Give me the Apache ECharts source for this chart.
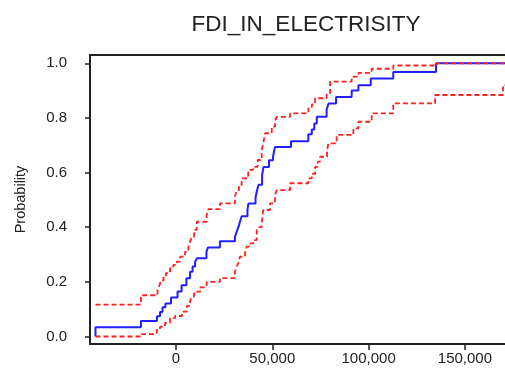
<!DOCTYPE html>
<html>
<head>
<meta charset="utf-8">
<script src="https://cdn.jsdelivr.net/npm/echarts@6/dist/echarts.min.js"></script>
<style>
  html, body { margin: 0; padding: 0; background: #fff; }
  #chart { width: 505px; height: 372px; }
</style>
</head>
<body>
<div id="chart"></div>
<script>
// Empirical CDF of FDI in electricity with its confidence band
const chartTitle = 'FDI_IN_ELECTRISITY';
const yAxisName = 'Probability';

const xTicks = [0, 50000, 100000, 150000];
const yTicks = [0, 0.2, 0.4, 0.6, 0.8, 1.0];

// Empirical CDF (jump locations and cumulative probability)
const ecdfX = [-41800, -41800, -18200, -9900, -8300, -7000, -5500, -2600, 800, 2900,
  5400, 7300, 8600, 9900, 10900, 15800, 16600, 22800, 30600, 31500,
  32400, 33200, 34100, 37100, 37600, 41300, 42100, 42800, 44700, 45400,
  48300, 50400, 51400, 59700, 68700, 70500, 71800, 73100, 78200, 79200,
  83100, 91200, 94700, 101100, 112800, 135000, 180000];
const ecdfY = [0, 0.034, 0.057, 0.074, 0.09, 0.107, 0.121, 0.143, 0.165, 0.188,
  0.213, 0.237, 0.256, 0.274, 0.286, 0.31, 0.326, 0.349, 0.365, 0.383,
  0.40, 0.42, 0.44, 0.463, 0.487, 0.51, 0.535, 0.555, 0.59, 0.62,
  0.645, 0.66, 0.694, 0.715, 0.74, 0.758, 0.78, 0.804, 0.83, 0.853,
  0.877, 0.90, 0.92, 0.944, 0.968, 1.0, 1.0];

// Upper confidence bound
const upperX = [-41800, -18200, -9600, -8800, -7800, -6500, -5200, -3100, -1400, 400,
  2100, 4700, 6400, 7300, 8200, 9400, 10800, 15900, 16800, 22800,
  30600, 31500, 32700, 34100, 37500, 40100, 42400, 44500, 45300, 46200,
  49700, 51400, 52300, 59200, 68700, 70500, 72200, 78200, 80000, 91200,
  94700, 101600, 112800, 135400, 180000];
const upperY = [0.117, 0.151, 0.17, 0.182, 0.205, 0.219, 0.232, 0.25, 0.262, 0.274,
  0.292, 0.31, 0.327, 0.347, 0.365, 0.39, 0.42, 0.445, 0.466, 0.487,
  0.512, 0.536, 0.555, 0.579, 0.61, 0.621, 0.646, 0.683, 0.707, 0.744,
  0.768, 0.79, 0.804, 0.817, 0.835, 0.85, 0.872, 0.89, 0.933, 0.951,
  0.965, 0.98, 0.992, 1.0, 1.0];

// Lower confidence bound
const lowerX = [-41800, -17800, -10000, -8300, -5700, -3100, -500, 3100, 5600, 7300,
  8300, 9400, 12500, 15900, 22800, 30600, 31500, 32400, 33200, 35800,
  36700, 38400, 40100, 41900, 42700, 44500, 44900, 45300, 48800, 51400,
  52300, 59200, 68700, 70500, 72200, 73600, 74800, 78400, 79100, 83400,
  92100, 94700, 101600, 112800, 134500, 169800, 180000];
const lowerY = [0.0, 0.009, 0.024, 0.036, 0.05, 0.067, 0.075, 0.091, 0.112, 0.13,
  0.146, 0.164, 0.18, 0.2, 0.214, 0.237, 0.255, 0.27, 0.292, 0.305,
  0.329, 0.341, 0.353, 0.39, 0.40, 0.414, 0.44, 0.463, 0.487, 0.518,
  0.536, 0.561, 0.579, 0.595, 0.621, 0.64, 0.658, 0.68, 0.707, 0.738,
  0.762, 0.786, 0.817, 0.853, 0.884, 0.92, 0.92];

const pairs = (xs, ys) => xs.map((x, i) => [x, ys[i]]);

const FONT = 'Liberation Sans, Arial, sans-serif';
const INK = '#222';

const chart = echarts.init(document.getElementById('chart'), null, { renderer: 'canvas' });

chart.setOption({
  animation: false,
  backgroundColor: '#fff',
  title: {
    text: chartTitle,
    left: 301,
    top: 8,
    textAlign: 'center',
    textStyle: { fontFamily: FONT, fontSize: 22.5, fontWeight: 'normal', color: INK }
  },
  grid: {
    left: 90, top: 55, width: 432.7, height: 289,
    outerBoundsMode: 'none',
    containLabel: false,
    show: true, borderColor: INK, borderWidth: 2, backgroundColor: 'transparent'
  },
  xAxis: {
    type: 'value',
    min: -44650, max: 180000,
    axisLine: { show: false, onZero: false },
    splitLine: { show: false },
    axisTick: { show: true, inside: false, length: 6, customValues: xTicks,
      lineStyle: { color: INK, width: 1.5 } },
    axisLabel: {
      customValues: xTicks, margin: 7,
      fontFamily: FONT, fontSize: 15, color: INK,
      formatter: v => v.toLocaleString('en-US')
    }
  },
  yAxis: {
    type: 'value',
    min: -0.0275, max: 1.0304,
    name: yAxisName,
    nameLocation: 'middle',
    nameGap: 62,
    nameRotate: 90,
    nameTextStyle: { fontFamily: FONT, fontSize: 14.5, color: INK },
    axisLine: { show: false, onZero: false },
    splitLine: { show: false },
    axisTick: { show: true, inside: false, length: 5, customValues: yTicks,
      lineStyle: { color: INK, width: 1.5 } },
    axisLabel: {
      customValues: yTicks, margin: 23,
      fontFamily: FONT, fontSize: 15, color: INK,
      formatter: v => v.toFixed(1)
    }
  },
  series: [
    {
      name: 'ECDF', type: 'line', step: 'end', showSymbol: false,
      data: pairs(ecdfX, ecdfY),
      lineStyle: { color: '#2020ff', width: 2 }
    },
    {
      name: 'Upper', type: 'line', step: 'end', showSymbol: false,
      data: pairs(upperX, upperY),
      lineStyle: { color: '#ff2020', width: 1.8, type: [5, 3] }
    },
    {
      name: 'Lower', type: 'line', step: 'end', showSymbol: false,
      data: pairs(lowerX, lowerY),
      lineStyle: { color: '#ff2020', width: 1.8, type: [5, 3] }
    }
  ]
});
</script>
</body>
</html>
